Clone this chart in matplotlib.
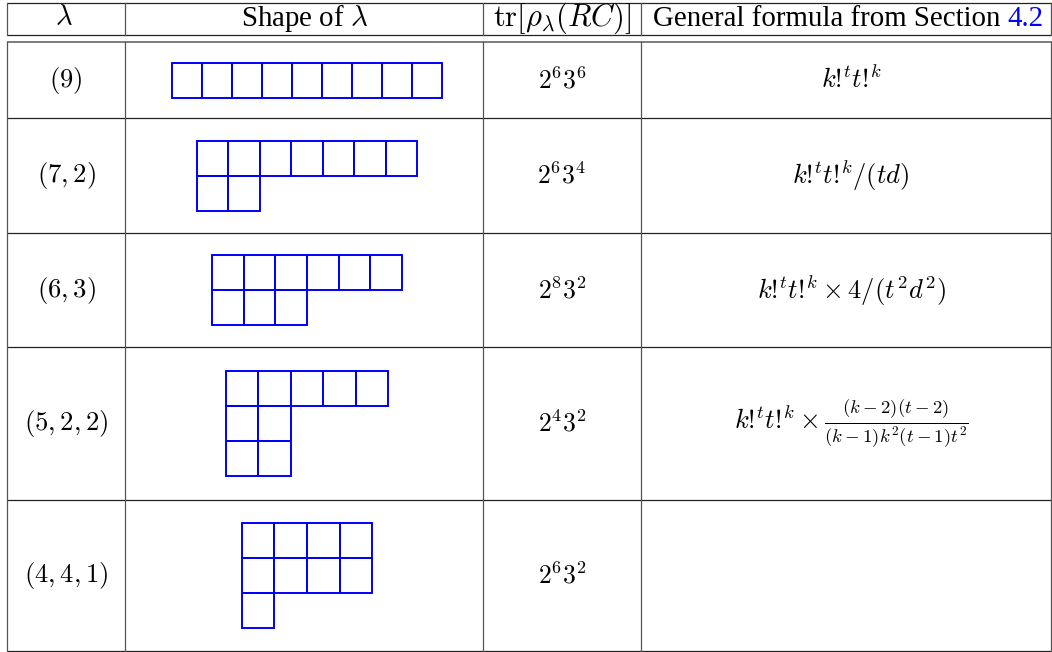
import numpy as np
import matplotlib.pyplot as plt

plt.rcParams['mathtext.fontset'] = 'cm'
plt.rcParams['font.family'] = 'serif'
plt.rcParams['font.serif'] = ['Liberation Serif', 'DejaVu Serif']

# table content
labels = [r'$(9)$', r'$(7,2)$', r'$(6,3)$', r'$(5,2,2)$', r'$(4,4,1)$']
shapes = [[9], [7, 2], [6, 3], [5, 2, 2], [4, 4, 1]]
traces = [r'$2^6 3^6$', r'$2^6 3^4$', r'$2^8 3^2$', r'$2^4 3^2$', r'$2^6 3^2$']
# \text{!} avoids the extra punctuation space mathtext puts after '!'
formulas = [r'$k\text{!}^t t\text{!}^k$',
            r'$k\text{!}^t t\text{!}^k/(td)$',
            r'$k\text{!}^t t\text{!}^k \times 4/(t^2 d^2)$',
            r'$k\text{!}^t t\text{!}^k \times \frac{(k-2)(t-2)}{(k-1)k^2(t-1)t^2}$',
            '']
headers = [r'$\lambda$', r'Shape of $\lambda$', r'$\mathrm{tr}[\rho_\lambda(RC)]$']

# layout in pixels
W, H = 1052, 652
col_x = [7, 125, 483, 641, 1051]
row_y = [42, 118, 233, 347, 500, 651]
head_top, head_bot = 3, 35
cell_w = [29.9, 31.5, 31.7, 32.5, 32.7]
cell_h = 35.

fig = plt.figure(figsize=(W/100., H/100.), dpi=100)
ax = fig.add_axes([0, 0, 1, 1])
ax.set_xlim(0, W)
ax.set_ylim(H, 0)
ax.axis('off')

lc = '#222222'
vc = '#555555'
# horizontal rules
for y in [head_top, head_bot] + row_y[1:]:
    ax.plot([col_x[0], W], [y, y], color=lc, lw=0.9, solid_capstyle='butt')
ax.plot([col_x[0], W], [row_y[0], row_y[0]], color='#666666', lw=1.2, solid_capstyle='butt')
# vertical rules (broken between the double line)
for x in col_x:
    ax.plot([x, x], [head_top, head_bot], color=vc, lw=0.9)
    ax.plot([x, x], [row_y[0], row_y[-1]], color=vc, lw=0.9)

cx = [(col_x[i]+col_x[i+1])/2. for i in range(4)]
ax.text(cx[0]-2, 19, headers[0], ha='center', va='center', fontsize=20.5)
ax.text(cx[1], 19, headers[1], ha='center', va='center', fontsize=20.8)
ax.text(cx[2], 18, headers[2], ha='center', va='center', fontsize=22)
t = ax.text(653, 19, 'General formula from Section ', ha='left', va='center', fontsize=20.8)
ax.annotate('4.2', xy=(1, 0.5), xycoords=t, ha='left', va='center', fontsize=20.8, color='#0000ff')

form_x = 851
shape_x = 307
for i in range(len(labels)):
    yc = (row_y[i]+row_y[i+1])/2.
    ax.text(66, yc, labels[i], ha='center', va='center', fontsize=19.2)
    ax.text(562, yc, traces[i], ha='center', va='center', fontsize=18.5)
    if formulas[i]:
        ax.text(form_x, yc, formulas[i], ha='center', va='center', fontsize=19.2)
    # young diagram
    sh = shapes[i]
    w = cell_w[i]
    x0 = shape_x - sh[0]*w/2.
    y0 = yc - len(sh)*cell_h/2.
    for r, n in enumerate(sh):
        for c in range(n):
            ax.add_patch(plt.Rectangle((x0+c*w, y0+r*cell_h), w, cell_h,
                                       fill=False, edgecolor='#0000ff', lw=1.4))

fig.savefig('out.png', dpi=100)
